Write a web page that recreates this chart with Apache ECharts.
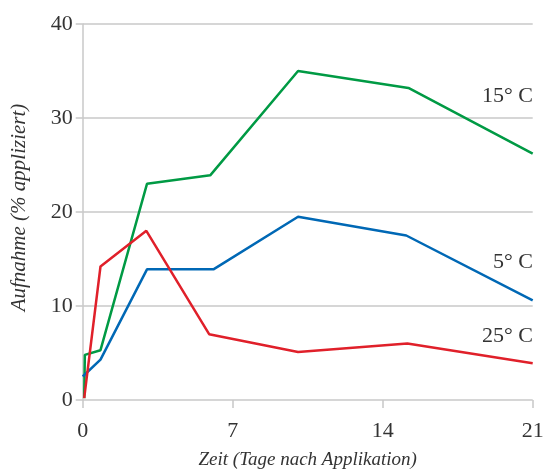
<!DOCTYPE html>
<html>
<head>
<meta charset="utf-8">
<script src="https://cdn.jsdelivr.net/npm/echarts@6/dist/echarts.min.js"></script>
<style>
html,body{margin:0;padding:0;background:#fff;}
#c{width:549px;height:474px;}
</style>
</head>
<body>
<div id="c"></div>
<script>
// Data
const xTicks = [0, 7, 14, 21];
const yTicks = [0, 10, 20, 30, 40];
const greenX = [0.07, 0.1, 0.83, 3, 5.95, 10.05, 15.2, 21];
const greenY = [0.2, 4.8, 5.3, 23.0, 23.9, 35.0, 33.2, 26.2];
const blueX  = [0, 0.83, 3, 6.1, 10.05, 15.1, 21];
const blueY  = [2.5, 4.3, 13.9, 13.9, 19.5, 17.5, 10.6];
const redX   = [0.07, 0.83, 2.97, 5.9, 10.05, 15.15, 21];
const redY   = [0.2, 14.2, 18.0, 7.0, 5.1, 6.0, 3.9];
const seriesNames = ['15° C', '5° C', '25° C'];
const xName = 'Zeit (Tage nach Applikation)';
const yName = 'Aufnahme (% appliziert)';

function pairs(xs, ys){ return xs.map((x,i)=>[x, ys[i]]); }

const font = '"Liberation Serif", "DejaVu Serif", serif';
const gridColor = '#c8c8c8';
const textColor = '#333';

const chart = echarts.init(document.getElementById('c'));
chart.setOption({
  animation: false,
  backgroundColor: '#fff',
  grid: {left: 82.7, right: 16.3, top: 24, bottom: 74, containLabel: false, outerBoundsMode: 'none'},
  xAxis: {
    type: 'value', min: xTicks[0], max: xTicks[xTicks.length-1], interval: 7,
    axisLine: {show: false},
    axisTick: {show: true, length: 8, lineStyle: {color: gridColor, width: 1.5}},
    splitLine: {show: false},
    axisLabel: {color: textColor, fontFamily: font, fontSize: 22, margin: 20},
    name: xName, nameLocation: 'middle', nameGap: 50,
    nameTextStyle: {color: textColor, fontFamily: font, fontStyle: 'italic', fontSize: 19}
  },
  yAxis: {
    type: 'value', min: yTicks[0], max: yTicks[yTicks.length-1], interval: 10,
    axisLine: {show: true, lineStyle: {color: gridColor, width: 1.5}},
    axisTick: {show: true, length: 7, lineStyle: {color: gridColor, width: 1.5}},
    splitLine: {show: true, lineStyle: {color: gridColor, width: 1.5}},
    axisLabel: {color: textColor, fontFamily: font, fontSize: 22, margin: 10},
    name: yName, nameLocation: 'middle', nameGap: 53, nameRotate: 90,
    nameTextStyle: {color: textColor, fontFamily: font, fontStyle: 'italic', fontSize: 21, padding: [0, 0, 0, 9]}
  },
  series: [
    {name: seriesNames[0], type: 'line', data: pairs(greenX, greenY), showSymbol: false,
     lineStyle: {color: '#009a44', width: 2.5}, itemStyle: {color: '#009a44'}},
    {name: seriesNames[1], type: 'line', data: pairs(blueX, blueY), showSymbol: false,
     lineStyle: {color: '#0068b5', width: 2.5}, itemStyle: {color: '#0068b5'}},
    {name: seriesNames[2], type: 'line', data: pairs(redX, redY), showSymbol: false,
     lineStyle: {color: '#e0202a', width: 2.5}, itemStyle: {color: '#e0202a'}}
  ],
  graphic: [
    {type: 'text', right: 16, top: 85, style: {text: seriesNames[0], font: '22px ' + font, fill: textColor}},
    {type: 'text', right: 16, top: 251, style: {text: seriesNames[1], font: '22px ' + font, fill: textColor}},
    {type: 'text', right: 16, top: 325, style: {text: seriesNames[2], font: '22px ' + font, fill: textColor}}
  ]
});
</script>
</body>
</html>
